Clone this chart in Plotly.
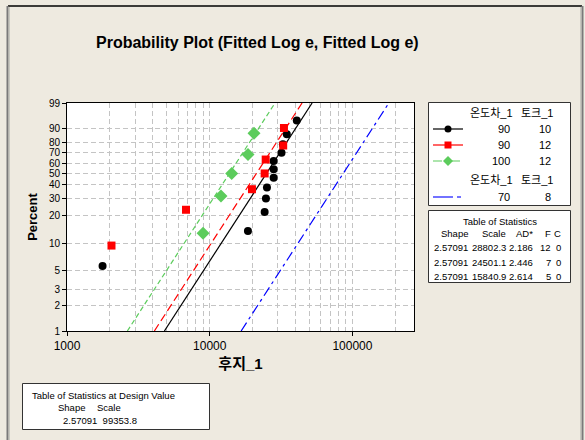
import numpy as np
import plotly.graph_objects as go

# ---------------- data ----------------
black_x = [1775, 18530, 24260, 24770, 25180, 28050, 28050, 28050, 31850, 32560, 34680, 40740]
black_pct = [5.6, 13.7, 21.8, 29.8, 37.9, 46.0, 54.0, 62.1, 70.2, 78.2, 86.3, 94.4]
red_x = [2050, 6820, 19770, 24260, 24670, 32720, 33130]
red_pct = [9.5, 23.0, 36.5, 50.0, 63.5, 77.0, 90.5]
green_x = [8980, 11990, 14260, 18540, 20420]
green_pct = [13.0, 31.5, 50.0, 68.5, 87.0]

shape = 2.57091
scales = {"black": 28802.3, "red": 24501.1, "green": 15840.9, "blue": 99353.8}
fit_pct_ends = [1, 99]

y_ticks_pct = [1, 2, 3, 5, 10, 20, 30, 40, 50, 60, 70, 80, 90, 99]
x_major = [1000, 10000, 100000]
x_minor = [2000, 3000, 4000, 5000, 6000, 7000, 8000, 9000,
           20000, 30000, 40000, 50000, 60000, 70000, 80000, 90000, 200000]

stats_rows = [["2.57091", "28802.3", "2.186", "12", "0"],
              ["2.57091", "24501.1", "2.446", "7", "0"],
              ["2.57091", "15840.9", "2.614", "5", "0"]]
legend_rows = [["90", "10"], ["90", "12"], ["100", "12"]]
legend_row2 = ["70", "8"]

W, H = 585, 440
BG = "#eeeae0"
GREEN = "#5ccc5c"
FONT = "Liberation Sans, Arial, Noto Sans CJK KR"


def t(p):
    p = np.asarray(p, dtype=float) / 100.0
    return np.log(-np.log(1 - p))


def X(px):
    return px / W


def Y(py):
    return 1 - py / H


fig = go.Figure()

# fitted lines
def fit_line(scale):
    tt = t(fit_pct_ends)
    xs = np.exp(np.log(scale) + tt / shape)
    return xs, tt

styles = {"black": ("black", "solid"), "red": ("red", "8px,4px"),
          "green": (GREEN, "5px,3px"), "blue": ("blue", "10px,4px,3px,4px")}
for key in ["blue", "green", "red", "black"]:
    xs, ys = fit_line(scales[key])
    c, d = styles[key]
    fig.add_trace(go.Scatter(x=xs, y=ys, mode="lines",
                             line=dict(color=c, width=1.2, dash=d),
                             showlegend=False, hoverinfo="skip"))

fig.add_trace(go.Scatter(x=black_x, y=t(black_pct), mode="markers",
                         marker=dict(symbol="circle", size=8, color="black"),
                         showlegend=False))
fig.add_trace(go.Scatter(x=red_x, y=t(red_pct), mode="markers",
                         marker=dict(symbol="square", size=8, color="red"),
                         showlegend=False))
fig.add_trace(go.Scatter(x=green_x, y=t(green_pct), mode="markers",
                         marker=dict(symbol="diamond", size=10, color=GREEN),
                         showlegend=False))

fig.update_xaxes(type="log", range=[3, np.log10(270000)],
                 domain=[X(67), X(414)],
                 tickvals=x_major, ticktext=[str(v) for v in x_major],
                 ticks="outside", ticklen=4, tickcolor="black",
                 showgrid=True, gridcolor="#c4c4c4", griddash="5px,3px", gridwidth=1,
                 minor=dict(tickvals=x_minor, showgrid=True, gridcolor="#c4c4c4",
                            griddash="5px,3px", gridwidth=1, ticks=""),
                 showline=True, linecolor="black", linewidth=1, mirror=True,
                 zeroline=False, tickfont=dict(size=12, color="black", family=FONT),
                 title=dict(text="<b>후지_1</b>", font=dict(size=15, color="black", family=FONT),
                            standoff=6),
                 automargin=False)
fig.update_yaxes(range=[float(t(1)), float(t(99))],
                 domain=[Y(331), Y(103)],
                 tickvals=t(y_ticks_pct), ticktext=[str(v) for v in y_ticks_pct],
                 ticks="outside", ticklen=4, tickcolor="black",
                 showgrid=True, gridcolor="#c4c4c4", griddash="5px,3px", gridwidth=1,
                 showline=True, linecolor="black", linewidth=1, mirror=True,
                 zeroline=False, tickfont=dict(size=10, color="black", family=FONT),
                 title=dict(text="<b>Percent</b>", font=dict(size=13, color="black", family=FONT),
                            standoff=8),
                 automargin=False)

shapes = []
ann = []

# window frame
shapes.append(dict(type="line", xref="paper", yref="paper", x0=X(8), x1=X(582), y0=Y(6), y1=Y(6),
                   line=dict(color="black", width=1.5)))
shapes.append(dict(type="line", xref="paper", yref="paper", x0=X(7.5), x1=X(7.5), y0=Y(6), y1=Y(440),
                   line=dict(color="#7a7a7a", width=2)))
shapes.append(dict(type="line", xref="paper", yref="paper", x0=X(9.5), x1=X(9.5), y0=Y(7), y1=Y(440),
                   line=dict(color="#c8c8c0", width=1)))
shapes.append(dict(type="line", xref="paper", yref="paper", x0=X(582.5), x1=X(582.5), y0=Y(6), y1=Y(440),
                   line=dict(color="#7a7a7a", width=2)))
shapes.append(dict(type="line", xref="paper", yref="paper", x0=X(580.5), x1=X(580.5), y0=Y(7), y1=Y(440),
                   line=dict(color="#c8c8c0", width=1)))

# boxes
for (x0, y0, x1, y1) in [(428.5, 102.5, 570.5, 205.5), (428.5, 210.5, 570.5, 282.5),
                         (22.5, 383.5, 209.5, 429.5)]:
    shapes.append(dict(type="rect", xref="paper", yref="paper", x0=X(x0), x1=X(x1), y0=Y(y0), y1=Y(y1),
                       fillcolor="white", line=dict(color="#333333", width=1)))


def text(x, y, s, size=10.5, anchor="center", bold=False):
    ann.append(dict(x=X(x), y=Y(y), xref="paper", yref="paper", text=("<b>%s</b>" % s) if bold else s,
                    showarrow=False, xanchor=anchor, yanchor="middle",
                    font=dict(size=size, color="black", family=FONT)))

# title
text(257, 42, "Probability Plot (Fitted Log e, Fitted Log e)", size=16, bold=True)

# legend
text(491, 113, "온도차_1", size=11)
text(537, 113, "토크_1", size=11)
row_y = [129, 145, 161]
leg_colors = ["black", "red", GREEN]
leg_dash = ["solid", "solid", "dash"]
for i, (a, b) in enumerate(legend_rows):
    yy = row_y[i]
    text(512, yy, a, size=11, anchor="right")
    text(553, yy, b, size=11, anchor="right")
    shapes.append(dict(type="line", xref="paper", yref="paper", x0=X(433), x1=X(463), y0=Y(yy), y1=Y(yy),
                       line=dict(color=leg_colors[i], width=1.2, dash=leg_dash[i])))
cx = 448
shapes.append(dict(type="circle", xref="paper", yref="paper", x0=X(cx - 3.5), x1=X(cx + 3.5),
                   y0=Y(129 - 3.5), y1=Y(129 + 3.5), fillcolor="black", line=dict(width=0)))
shapes.append(dict(type="rect", xref="paper", yref="paper", x0=X(cx - 3.5), x1=X(cx + 3.5),
                   y0=Y(145 - 3.5), y1=Y(145 + 3.5), fillcolor="red", line=dict(width=0)))
shapes.append(dict(type="path", xref="paper", yref="paper",
                   path="M %f %f L %f %f L %f %f L %f %f Z" % (X(cx), Y(161 - 5), X(cx + 5), Y(161),
                                                             X(cx), Y(161 + 5), X(cx - 5), Y(161)),
                   fillcolor=GREEN, line=dict(width=0)))
text(491, 180, "온도차_1", size=11)
text(537, 180, "토크_1", size=11)
text(512, 197, legend_row2[0], size=11, anchor="right")
text(553, 197, legend_row2[1], size=11, anchor="right")
shapes.append(dict(type="line", xref="paper", yref="paper", x0=X(433), x1=X(461), y0=Y(197), y1=Y(197),
                   line=dict(color="#4444ff", width=1.5, dash="20px,4px,4px,4px")))

# table of statistics
text(500, 221, "Table of Statistics", size=9.5)
cols = [470, 508, 535, 553, 563]
hdr = ["Shape", "Scale", "AD*", "F", "C"]
for c, h in zip(cols, hdr):
    text(c, 233.5, h, size=9.5, anchor="right")
for r, yy in zip(stats_rows, [247.5, 262, 276.5]):
    for c, v in zip(cols, r):
        text(c, yy, v, size=9.5, anchor="right")

# design value table
text(103, 395, "Table of Statistics at Design Value", size=9.5)
text(87, 407, "Shape", size=9.5, anchor="right")
text(123, 407, "Scale", size=9.5, anchor="right")
text(100, 420, "2.57091  99353.8", size=9.5)

fig.update_layout(width=W, height=H, margin=dict(l=0, r=0, t=0, b=0),
                  paper_bgcolor=BG, plot_bgcolor="white",
                  shapes=shapes, annotations=ann, showlegend=False,
                  font=dict(family=FONT))

fig.write_html("out.html")
